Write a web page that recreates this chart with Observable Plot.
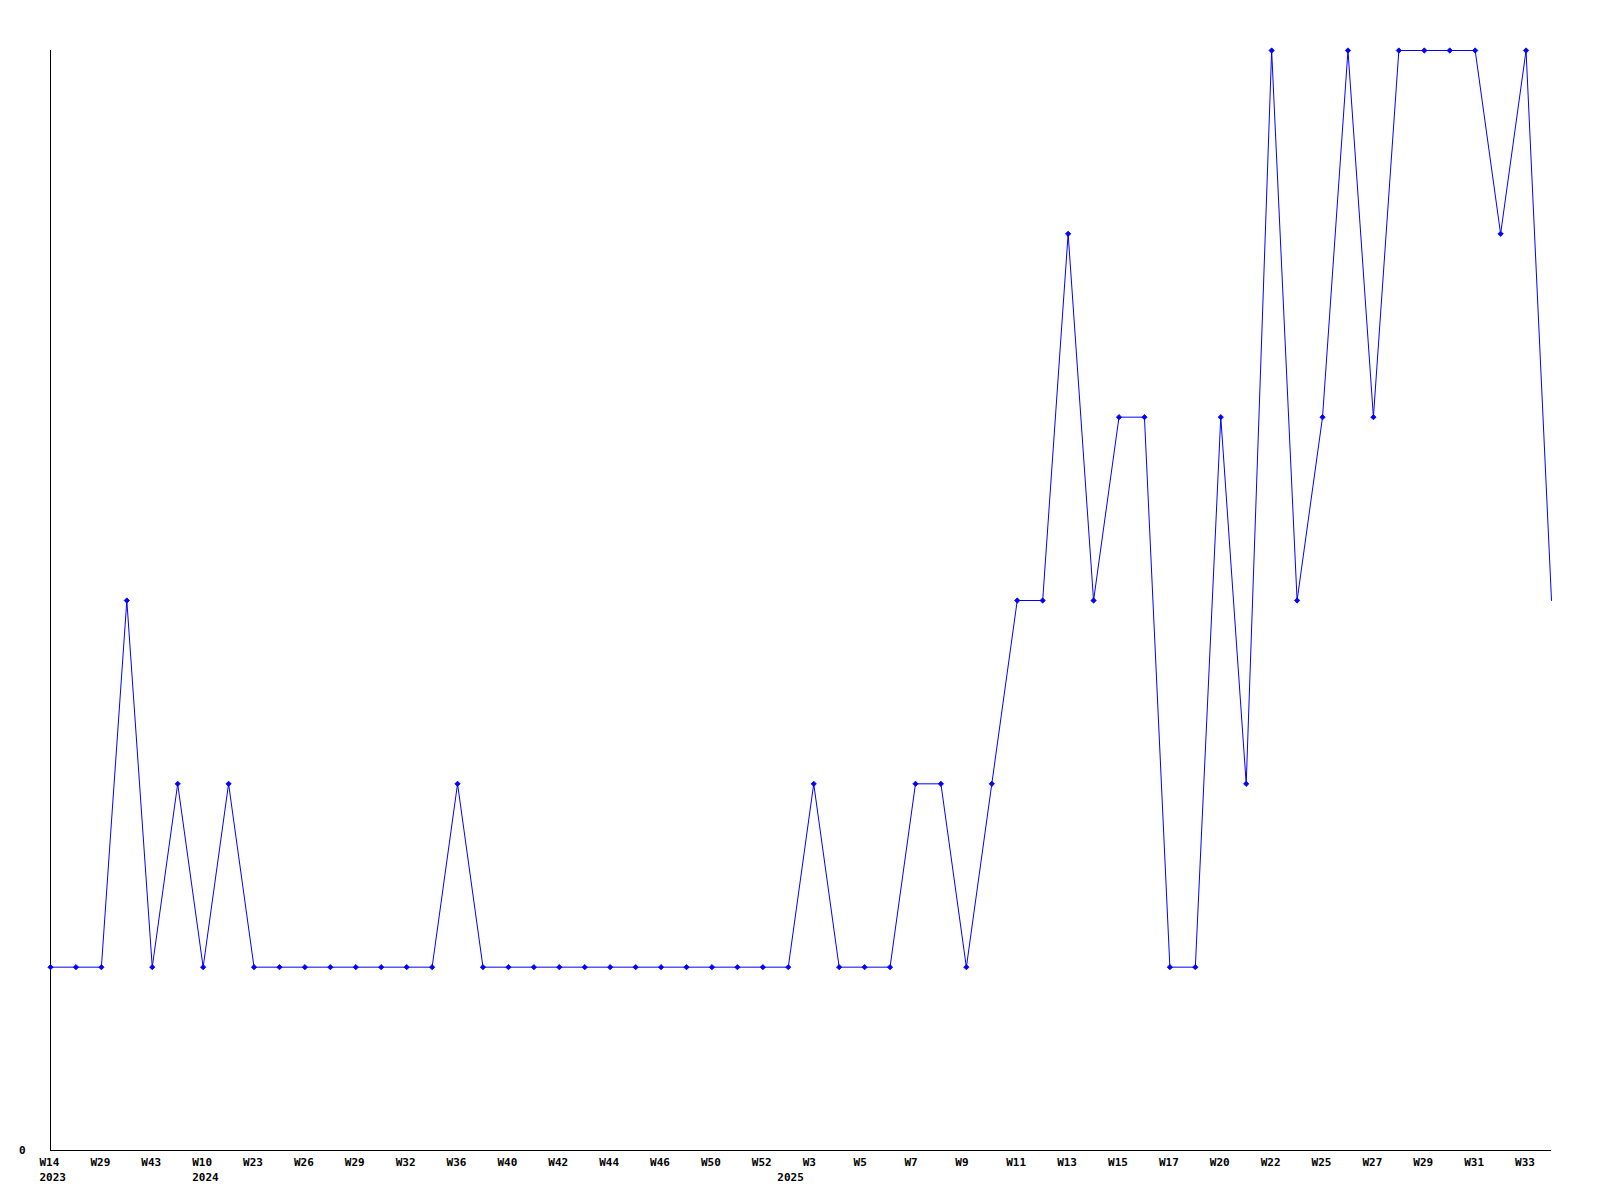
<!DOCTYPE html>
<html>
<head>
<meta charset="utf-8">
<script src="https://cdn.jsdelivr.net/npm/d3@7"></script>
<script src="https://cdn.jsdelivr.net/npm/@observablehq/plot@0.6"></script>
<style>
  html, body { margin: 0; padding: 0; background: #fff; }
  #chart svg { display: block; }
</style>
</head>
<body>
<div id="chart"></div>
<script>
// Weekly values, one per point (left to right)
const values = [
  1, 1, 1, 3, 1, 2, 1, 2, 1, 1,
  1, 1, 1, 1, 1, 1, 2, 1, 1, 1,
  1, 1, 1, 1, 1, 1, 1, 1, 1, 1,
  2, 1, 1, 1, 2, 2, 1, 2, 3, 3,
  5, 3, 4, 4, 1, 1, 4, 2, 6, 3,
  4, 6, 4, 6, 6, 6, 6, 5, 6, 3
];
// Tick labels shown under every second point
const tickWeeks = [
  "W14", "W29", "W43", "W10", "W23", "W26", "W29", "W32", "W36", "W40",
  "W42", "W44", "W46", "W50", "W52", "W3", "W5", "W7", "W9", "W11",
  "W13", "W15", "W17", "W20", "W22", "W25", "W27", "W29", "W31", "W33"
];
const yearLabels = ["2023", "2024", "2025"];
const yearPointIndex = [0, 6, 29];

const data = values.map((v, i) => ({i, v}));
const ticks = tickWeeks.map((w, k) => ({i: k * 2, w}));
const years = yearLabels.map((y, k) => ({i: yearPointIndex[k], y}));

const font = {fontFamily: "DejaVu Sans Mono", fontSize: 11, fontWeight: "bold", fill: "#000"};

const chart = Plot.plot({
  width: 1600,
  height: 1200,
  marginLeft: 50,
  marginRight: 49,
  marginTop: 50,
  marginBottom: 50,
  style: {fontFamily: "DejaVu Sans Mono", fontSize: "11px", fontWeight: "bold", background: "#fff", color: "#000"},
  x: {domain: [0, values.length - 1], axis: null},
  y: {domain: [0, 6], axis: null},
  marks: [
    Plot.ruleX([0], {stroke: "#000", strokeWidth: 1}),
    Plot.ruleY([0], {stroke: "#000", strokeWidth: 1}),
    Plot.axisY({ticks: [0], tickSize: 0, tickPadding: 25, label: null, tickFormat: d => String(d), fontWeight: "bold", fontSize: 11}),
    Plot.line(data, {x: "i", y: "v", stroke: "#0000ff", strokeWidth: 1}),
    Plot.dot(data.slice(0, -1), {x: "i", y: "v", symbol: "diamond2", r: 2.4, fill: "#0000ff", stroke: "#0000ff", strokeWidth: 0.8}),
    Plot.text(ticks, {x: "i", text: "w", frameAnchor: "bottom", dy: 12, dx: -11, textAnchor: "start", lineAnchor: "middle", ...font}),
    Plot.text(years, {x: "i", text: "y", frameAnchor: "bottom", dy: 27, dx: -11, textAnchor: "start", lineAnchor: "middle", ...font})
  ]
});
document.getElementById("chart").appendChild(chart);
</script>
</body>
</html>
